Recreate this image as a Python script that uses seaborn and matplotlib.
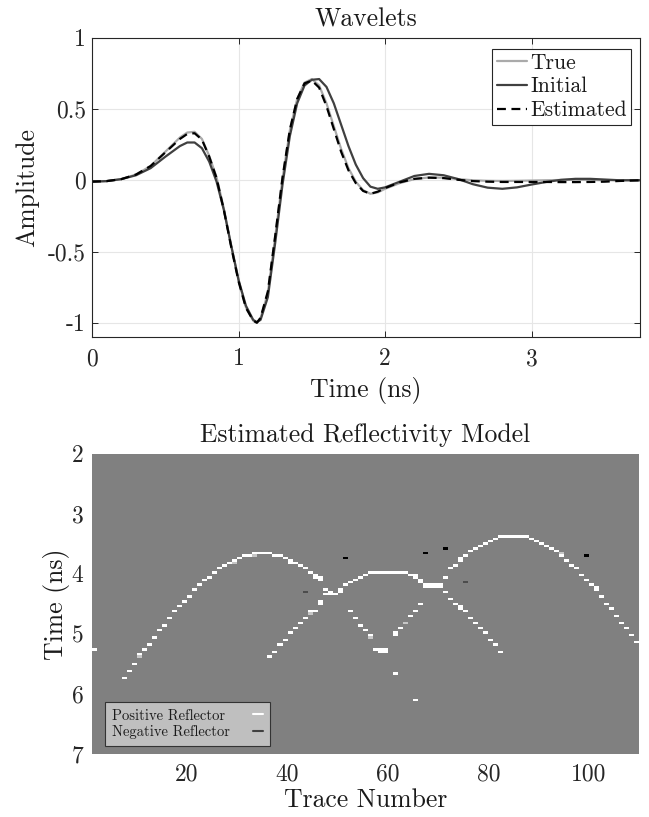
import numpy as np
import matplotlib
matplotlib.use("Agg")
import matplotlib.pyplot as plt
from matplotlib.lines import Line2D
import seaborn as sns

# ---- wavelets (top panel), amplitudes ----
time_ns = [0.0, 0.1, 0.2, 0.3, 0.4, 0.5, 0.6, 0.65, 0.7, 0.75, 0.8, 0.85, 0.9,
           0.95, 1.0, 1.05, 1.1, 1.125, 1.15, 1.2, 1.25, 1.3, 1.35, 1.4, 1.45,
           1.5, 1.55, 1.6, 1.65, 1.7, 1.75, 1.8, 1.85, 1.9, 1.95, 2.0, 2.1,
           2.2, 2.3, 2.4, 2.5, 2.6, 2.7, 2.8, 2.9, 3.0, 3.1, 3.2, 3.3, 3.4,
           3.5, 3.6, 3.75]
true_amp = [-0.01, -0.006, 0.008, 0.04, 0.10, 0.20, 0.30, 0.335, 0.34, 0.29,
            0.17, 0.02, -0.20, -0.46, -0.70, -0.89, -0.985, -1.0, -0.97,
            -0.79, -0.40, 0.01, 0.35, 0.57, 0.685, 0.71, 0.665, 0.54, 0.38,
            0.22, 0.085, -0.01, -0.07, -0.095, -0.085, -0.06, -0.02, 0.008,
            0.02, 0.018, 0.008, 0.0, -0.004, -0.005, -0.004, -0.002, 0.0,
            0.002, 0.003, 0.002, 0.0, 0.0, 0.0]
initial_amp = [-0.01, -0.006, 0.008, 0.035, 0.085, 0.165, 0.24, 0.265, 0.265,
               0.225, 0.13, -0.01, -0.21, -0.46, -0.70, -0.88, -0.98, -0.995,
               -0.98, -0.82, -0.44, -0.03, 0.31, 0.54, 0.665, 0.705, 0.71,
               0.655, 0.54, 0.39, 0.24, 0.11, 0.015, -0.045, -0.06, -0.05,
               -0.01, 0.03, 0.045, 0.035, 0.008, -0.028, -0.052, -0.06, -0.05,
               -0.03, -0.012, 0.003, 0.01, 0.01, 0.005, 0.0, 0.0]
estimated_amp = [-0.01, -0.006, 0.008, 0.04, 0.10, 0.195, 0.29, 0.325, 0.33,
                 0.285, 0.165, 0.015, -0.21, -0.47, -0.71, -0.895, -0.985,
                 -1.0, -0.965, -0.78, -0.39, 0.02, 0.355, 0.57, 0.68, 0.70,
                 0.65, 0.52, 0.36, 0.20, 0.07, -0.02, -0.075, -0.095, -0.08,
                 -0.055, -0.015, 0.01, 0.018, 0.015, 0.003, -0.006, -0.01,
                 -0.012, -0.012, -0.012, -0.012, -0.013, -0.013, -0.012, -0.01,
                 -0.005, 0.0]

# ---- reflectivity model (bottom panel): trace number and time (ns) of lit cells ----
hyp1_traces = [7, 8, 9, 10, 11, 12, 13, 14, 15, 16, 17, 18, 19, 20, 21, 22, 23,
               24, 25, 26, 27, 28, 29, 30, 31, 32, 33, 34, 35, 36, 37, 38, 39,
               40, 40, 41, 42, 43, 44, 45, 45, 46, 46, 47, 47, 48, 48, 49, 50,
               50, 52, 53, 54, 55, 56, 57, 58, 58, 59, 59]
hyp1_times = [5.72, 5.60, 5.49, 5.33, 5.24, 5.16, 5.04, 4.92, 4.84, 4.72, 4.60,
              4.53, 4.45, 4.37, 4.25, 4.17, 4.09, 4.05, 3.97, 3.89, 3.84, 3.80,
              3.77, 3.73, 3.69, 3.69, 3.65, 3.65, 3.65, 3.65, 3.69, 3.69, 3.73,
              3.77, 3.80, 3.80, 3.84, 3.89, 3.97, 4.01, 4.05, 4.05, 4.09, 4.25,
              4.33, 4.29, 4.33, 4.33, 4.25, 4.29, 4.60, 4.74, 4.84, 4.92, 5.00,
              5.24, 5.27, 5.31, 5.27, 5.31]

hyp2_traces = [36, 37, 38, 39, 40, 41, 42, 43, 44, 45, 46, 46, 51, 52, 53, 54,
               55, 56, 57, 58, 59, 60, 61, 62, 63, 64, 65, 65, 66, 66, 67, 67,
               68, 68, 69, 69, 70, 70, 71, 72, 73, 74, 74, 75, 76, 77, 78, 79,
               80, 81, 82]
hyp2_times = [5.36, 5.28, 5.16, 5.08, 4.96, 4.89, 4.80, 4.73, 4.60, 4.60, 4.45,
              4.49, 4.19, 4.13, 4.09, 4.05, 4.01, 3.97, 3.97, 3.97, 3.97, 3.97,
              3.97, 3.97, 3.97, 4.01, 4.01, 4.05, 4.09, 4.13, 4.17, 4.21, 4.17,
              4.21, 4.17, 4.21, 4.17, 4.21, 4.29, 4.41, 4.49, 4.53, 4.57, 4.60,
              4.73, 4.80, 4.89, 4.96, 5.08, 5.16, 5.28]

hyp3_traces = [61, 61, 62, 64, 65, 66, 71, 72, 73, 74, 74, 75, 76, 77, 78, 79,
               80, 81, 82, 83, 84, 85, 86, 87, 88, 89, 90, 91, 92, 93, 94, 95,
               96, 97, 98, 99, 100, 101, 101, 102, 103, 104, 105, 106, 107, 108,
               109]
hyp3_times = [4.97, 5.01, 4.89, 4.69, 4.60, 4.49, 4.05, 3.89, 3.84, 3.75, 3.79,
              3.69, 3.61, 3.57, 3.53, 3.49, 3.45, 3.41, 3.37, 3.37, 3.37, 3.37,
              3.37, 3.37, 3.41, 3.45, 3.49, 3.53, 3.57, 3.61, 3.69, 3.77, 3.84,
              3.89, 4.01, 4.09, 4.17, 4.21, 4.25, 4.37, 4.49, 4.57, 4.69, 4.80,
              4.89, 5.01, 5.12]

spike_traces = [1, 61, 65]
spike_times = [5.24, 5.64, 6.08]

weak_pos_traces = [10, 29, 33, 44, 56, 63, 94]
weak_pos_times = [5.37, 3.80, 3.69, 4.64, 5.04, 4.81, 3.65]

neg_traces = [51, 67, 71, 99]
neg_times = [3.73, 3.65, 3.57, 3.69]

weak_neg_traces = [43, 75]
weak_neg_times = [4.29, 4.13]

n_traces = 109
t_start, t_end, dt = 2.0, 7.0, 0.04
n_rows = int(round((t_end - t_start) / dt))

refl = np.zeros((n_rows, n_traces))


def put(traces, times, value):
    for tr, t in zip(traces, times):
        row = int(np.floor((t - t_start) / dt + 1e-6))
        refl[row, tr - 1] = value


put(weak_pos_traces, weak_pos_times, 0.55)
put(weak_neg_traces, weak_neg_times, -0.4)
put(hyp1_traces, hyp1_times, 1.0)
put(hyp2_traces, hyp2_times, 1.0)
put(hyp3_traces, hyp3_times, 1.0)
put(spike_traces, spike_times, 1.0)
put(neg_traces, neg_times, -1.0)

# ---- style ----
sns.set_style("ticks")
plt.rcParams.update({
    "font.family": ["cmr10", "DejaVu Serif"],
    "mathtext.fontset": "cm",
    "axes.unicode_minus": False,
    "axes.formatter.use_mathtext": True,
    "text.color": "#1a1a1a",
    "axes.labelcolor": "#1a1a1a",
    "xtick.color": "#262626",
    "ytick.color": "#262626",
})

fig = plt.figure(figsize=(6.49, 8.17), dpi=100)

# top panel: wavelets
ax1 = fig.add_axes([0.1418, 0.5875, 0.8444, 0.3663])
sns.lineplot(x=time_ns, y=true_amp, ax=ax1, color="#aaaaaa", linewidth=1.6,
             label="True")
sns.lineplot(x=time_ns, y=initial_amp, ax=ax1, color="#404040", linewidth=1.6,
             label="Initial")
sns.lineplot(x=time_ns, y=estimated_amp, ax=ax1, color="black", linewidth=1.6,
             linestyle=(0, (4, 2.5)), label="Estimated")

ax1.set_xlim(0, 3.74)
ax1.set_ylim(-1.1, 1)
ax1.set_xticks([0, 1, 2, 3])
ax1.set_xticklabels(["0", "1", "2", "3"])
ax1.set_yticks([-1, -0.5, 0, 0.5, 1])
ax1.set_yticklabels(["-1", "-0.5", "0", "0.5", "1"])
ax1.grid(True, color="#e6e6e6", linewidth=0.8)
ax1.set_axisbelow(True)
ax1.tick_params(direction="in", top=True, right=True, length=4, width=0.7,
                labelsize=17)
ax1.tick_params(axis="x", pad=8)
ax1.tick_params(axis="y", pad=4.5)
for sp in ax1.spines.values():
    sp.set_color("#262626")
    sp.set_linewidth(0.8)
ax1.set_title("Wavelets", fontsize=18.5, pad=8)
ax1.set_xlabel("Time (ns)", fontsize=18.5, labelpad=5)
ax1.set_ylabel("Amplitude", fontsize=18.5, labelpad=6)
leg1 = ax1.legend(loc="upper right", bbox_to_anchor=(1 - 9 / 548, 1 - 11 / 299),
                  borderaxespad=0, fontsize=15.5, frameon=True, fancybox=False,
                  framealpha=1, edgecolor="#262626", borderpad=0.2,
                  handlelength=1.4, handletextpad=0.15, labelspacing=0.2)
leg1.get_frame().set_linewidth(0.8)

# bottom panel: reflectivity model
ax2 = fig.add_axes([0.1413, 0.0771, 0.8433, 0.3678])
sns.heatmap(refl, ax=ax2, cmap="gray", vmin=-1, vmax=1, cbar=False,
            xticklabels=False, yticklabels=False)
ax2.set_xticks([19, 39, 59, 79, 99])
ax2.set_xticklabels(["20", "40", "60", "80", "100"])
ax2.set_yticks([0, 25, 50, 75, 100, 125])
ax2.set_yticklabels(["2", "3", "4", "5", "6", "7"], rotation=0)
ax2.tick_params(length=0, labelsize=17)
ax2.tick_params(axis="x", pad=7)
ax2.tick_params(axis="y", pad=6)
ax2.set_title("Estimated Reflectivity Model", fontsize=18.5, pad=8)
ax2.set_xlabel("Trace Number", fontsize=18.5, labelpad=2)
ax2.set_ylabel("Time (ns)", fontsize=18.5, labelpad=1)

handles = [Line2D([], [], color="white", linewidth=1.5),
           Line2D([], [], color="#404040", linewidth=1.5)]
# trailing space keeps both labels the same width (legend right-aligns them)
leg2 = ax2.legend(handles, ["Positive Reflector ", "Negative Reflector"],
                  loc="lower left", bbox_to_anchor=(0.0243, 0.0266),
                  borderaxespad=0, fontsize=10.5, markerfirst=False,
                  frameon=True, fancybox=False, framealpha=1,
                  facecolor="#bfbfbf", edgecolor="#333333", borderpad=0.45,
                  handlelength=0.7, handletextpad=1.6, labelspacing=0.2)
leg2.get_frame().set_linewidth(0.8)

fig.savefig("out.png", dpi=100)
print("saved out.png")
